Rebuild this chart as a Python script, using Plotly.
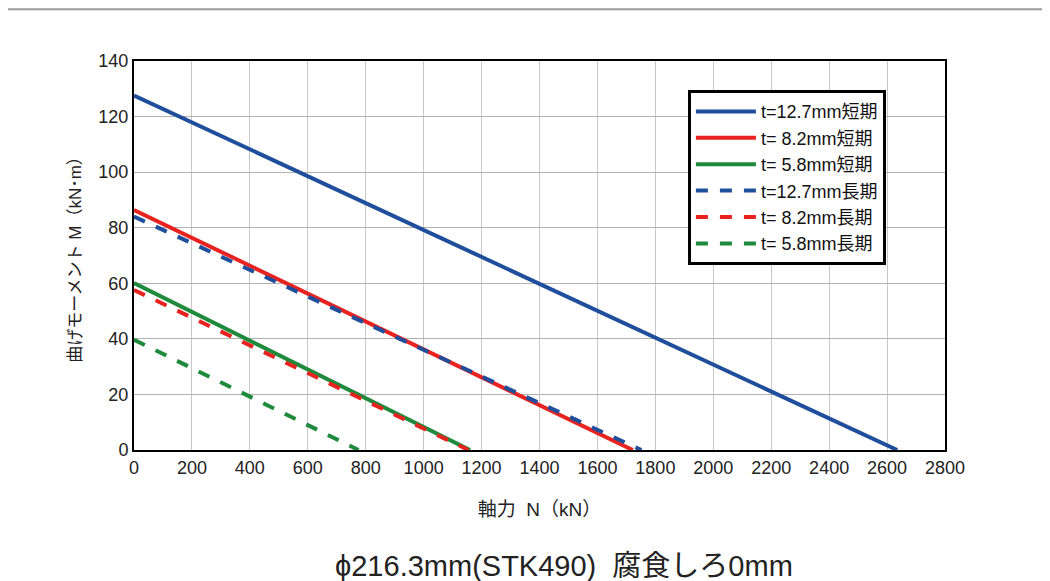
import plotly.graph_objects as go

# Axial force at zero moment (kN) and moment at zero axial force (kN·m)
series_names = ["t=12.7mm短期", "t= 8.2mm短期", "t= 5.8mm短期",
                "t=12.7mm長期", "t= 8.2mm長期", "t= 5.8mm長期"]
n_values = [[0, 2635], [0, 1722], [0, 1160],
            [0, 1752], [0, 1155], [0, 775]]
m_values = [[127.6, 0], [86.4, 0], [60.1, 0],
            [84.0, 0], [57.6, 0], [39.7, 0]]
colors = ["#1f4e9c", "#e8231f", "#1e8a3c", "#1f4e9c", "#e8231f", "#1e8a3c"]
dashes = ["solid", "solid", "solid", "dash", "dash", "dash"]

x_ticks = list(range(0, 2801, 200))
y_ticks = list(range(0, 141, 20))

FONT = "Liberation Sans, Noto Sans CJK JP, sans-serif"

fig = go.Figure()
for name, xs, ys, c, d in zip(series_names, n_values, m_values, colors, dashes):
    fig.add_trace(go.Scatter(x=xs, y=ys, mode="lines", name=name,
                             line=dict(color=c, width=4, dash=d)))

# page is offset by the 8px body margin, so margins are shifted accordingly
fig.update_layout(
    width=1050, height=581,
    margin=dict(l=126, r=113, t=53, b=139),
    paper_bgcolor="white", plot_bgcolor="white",
    font=dict(family=FONT, size=16, color="#222"),
    showlegend=True,
    legend=dict(x=0.683, y=0.925, xanchor="left", yanchor="top",
                bgcolor="white", bordercolor="black", borderwidth=3,
                font=dict(size=18, color="#111"), tracegroupgap=0,
                itemwidth=60),
    xaxis=dict(range=[0, 2800], tickvals=x_ticks, showgrid=True,
               gridcolor="#c8c8c8", gridwidth=1, zeroline=False,
               showline=True, linecolor="black", linewidth=2, mirror=True,
               ticks="", tickfont=dict(size=18),
               title=dict(text="軸力  N（kN）", font=dict(size=19), standoff=26)),
    yaxis=dict(range=[0, 140], tickvals=y_ticks, showgrid=True,
               gridcolor="#b0b0b0", gridwidth=1, zeroline=False,
               showline=True, linecolor="black", linewidth=2, mirror=True,
               ticks="", tickfont=dict(size=18),
               title=dict(text="曲げモーメント M（kN･m）", font=dict(size=17), standoff=12)),
    shapes=[dict(type="line", xref="paper", yref="paper", x0=-0.16, x1=1.14,
                 y0=1.133, y1=1.133, line=dict(color="#9a9a9a", width=2))],
    annotations=[dict(text="ϕ216.3mm(STK490)  腐食しろ0mm", xref="paper", yref="paper",
                      x=0.53, y=-0.298, xanchor="center", yanchor="middle",
                      showarrow=False, font=dict(size=29, color="#222"))],
)

fig.write_html("out.html")
